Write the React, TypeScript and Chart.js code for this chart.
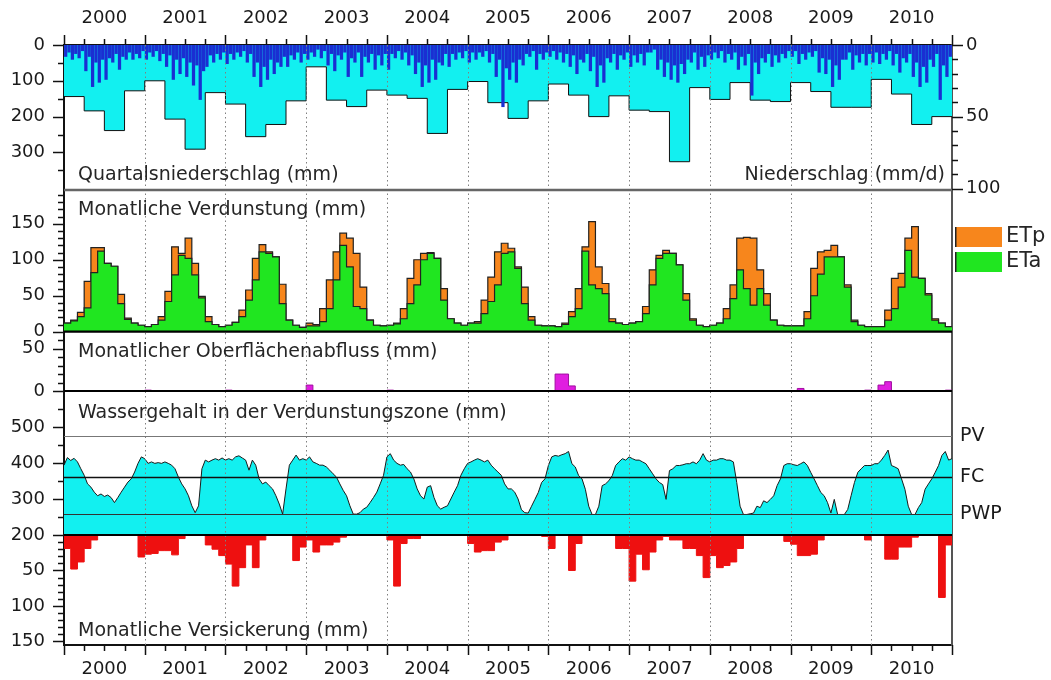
import React, { useEffect, useRef } from 'react';
import { Chart, registerables } from 'chart.js';

Chart.register(...registerables);

const FONT = 'DejaVu Sans';
Chart.defaults.font.family = FONT;

// ---------- data ----------
const years = ['2000', '2001', '2002', '2003', '2004', '2005', '2006', '2007', '2008', '2009', '2010'];

// Quarterly precipitation (mm), 4 per year
const quarterlyPrecip = [
  144, 184, 239, 128,
  100, 207, 291, 133,
  165, 256, 222, 156,
  61, 154, 172, 126,
  140, 149, 247, 124,
  102, 161, 205, 156,
  109, 140, 200, 142,
  182, 186, 326, 119,
  152, 105, 154, 158,
  105, 130, 174, 174,
  96, 137, 222, 200,
];

// Daily precipitation peaks (mm/d), two per month
const dailyPrecip = [
  8, 5, 10, 6, 9, 4, 18, 8, 29, 12, 26, 10, 24, 9, 12, 6, 17, 8, 10, 5, 10, 6, 9, 4,
  10, 5, 8, 4, 11, 6, 15, 7, 24, 10, 20, 9, 22, 12, 28, 14, 38, 18, 15, 7, 12, 6, 10, 5,
  13, 6, 10, 5, 8, 4, 12, 6, 22, 12, 29, 15, 24, 10, 20, 12, 15, 8, 15, 7, 10, 5, 12, 6,
  10, 5, 8, 3, 9, 4, 14, 6, 18, 7, 10, 5, 22, 9, 12, 5, 22, 8, 12, 6, 17, 7, 14, 6,
  17, 6, 9, 4, 10, 5, 14, 7, 20, 12, 29, 14, 26, 10, 24, 12, 14, 6, 15, 6, 10, 5, 9, 4,
  12, 5, 10, 5, 8, 4, 12, 6, 22, 10, 43, 16, 24, 12, 26, 10, 14, 6, 8, 4, 17, 6, 10, 5,
  8, 4, 10, 5, 12, 6, 15, 7, 20, 10, 12, 6, 18, 8, 29, 14, 26, 9, 12, 6, 17, 7, 10, 5,
  15, 7, 12, 6, 14, 5, 5, 3, 17, 10, 22, 12, 24, 14, 26, 13, 20, 10, 12, 5, 17, 8, 15, 7,
  10, 5, 9, 4, 12, 6, 10, 5, 17, 8, 14, 6, 35, 12, 20, 9, 12, 6, 15, 7, 12, 6, 9, 4,
  8, 4, 13, 6, 10, 5, 8, 4, 19, 9, 20, 10, 29, 14, 24, 10, 10, 5, 17, 7, 12, 6, 14, 6,
  12, 5, 13, 6, 10, 4, 14, 6, 19, 9, 12, 6, 22, 12, 29, 15, 26, 10, 15, 6, 38, 14, 22, 8,
];

// Monthly potential evapotranspiration (mm)
const etp = [
  12, 16, 27, 70, 117, 117, 95, 91, 52, 19, 12, 9,
  7, 10, 21, 56, 118, 109, 130, 95, 49, 21, 10, 7,
  9, 13, 30, 58, 102, 121, 111, 104, 66, 16, 9, 6,
  12, 10, 32, 72, 111, 137, 130, 109, 62, 16, 9, 8,
  9, 12, 32, 74, 100, 109, 110, 102, 60, 18, 12, 9,
  12, 14, 44, 76, 111, 123, 116, 90, 62, 21, 9, 8,
  8, 7, 12, 28, 60, 118, 153, 90, 67, 18, 12, 10,
  12, 14, 35, 86, 106, 113, 109, 93, 53, 18, 9, 7,
  9, 12, 32, 65, 130, 131, 130, 86, 53, 16, 9, 8,
  8, 8, 28, 88, 111, 113, 120, 104, 65, 16, 9, 7,
  7, 7, 30, 74, 81, 130, 146, 74, 53, 18, 12, 7,
];

// Monthly actual evapotranspiration (mm)
const eta = [
  12, 15, 21, 33, 82, 112, 95, 91, 39, 17, 12, 9,
  7, 10, 16, 42, 79, 106, 102, 79, 47, 14, 10, 7,
  9, 13, 21, 44, 72, 111, 109, 104, 39, 16, 9, 6,
  8, 8, 14, 32, 72, 120, 90, 35, 32, 16, 9, 8,
  9, 11, 18, 39, 65, 100, 109, 102, 44, 18, 12, 9,
  12, 12, 25, 42, 65, 109, 111, 88, 39, 16, 9, 8,
  8, 7, 10, 21, 32, 112, 65, 60, 53, 14, 12, 10,
  12, 14, 25, 65, 102, 109, 109, 93, 44, 16, 9, 7,
  9, 12, 18, 46, 86, 60, 37, 60, 37, 16, 9, 8,
  8, 8, 18, 50, 80, 104, 104, 104, 62, 14, 9, 7,
  7, 7, 16, 32, 62, 113, 76, 74, 51, 16, 12, 7,
];

// Monthly surface runoff (mm)
const runoff = [
  0, 0, 0, 0, 0, 0, 0, 0, 0, 0, 0, 0,
  1, 0, 0, 0, 0, 0, 0, 0, 0, 0, 0, 0,
  1, 0, 0, 0, 0, 0, 0, 0, 0, 0, 0, 0,
  7, 0, 0, 0, 0, 0, 0, 0, 0, 0, 0, 0,
  1, 0, 0, 0, 0, 0, 0, 0, 0, 0, 0, 0,
  0, 0, 0, 0, 0, 0, 0, 0, 0, 0, 0, 0,
  0, 20, 20, 6, 0, 0, 0, 0, 0, 0, 0, 0,
  0, 0, 0, 0, 0, 0, 0, 0, 0, 0, 0, 0,
  0, 0, 0, 0, 0, 0, 0, 0, 0, 0, 0, 0,
  0, 3, 0, 0, 0, 0, 0, 0, 0, 0, 0, 1,
  0, 7, 11, 0, 0, 0, 0, 0, 0, 0, 0, 1,
];

// Water content in the evaporation zone (mm), twice per month
const waterContent = [
  394, 415, 407, 413, 403, 384, 366, 342, 333, 319, 309, 314, 307, 311, 304, 290, 304, 319, 333, 347, 356, 375, 399, 417,
  412, 399, 403, 399, 401, 399, 403, 399, 394, 384, 361, 342, 328, 309, 281, 262, 281, 384, 408, 403, 408, 412, 408, 414,
  408, 412, 408, 417, 420, 414, 408, 380, 408, 394, 356, 342, 347, 337, 328, 309, 286, 258, 328, 394, 408, 422, 408, 412,
  408, 417, 403, 399, 394, 394, 389, 380, 370, 361, 342, 324, 309, 281, 258, 258, 262, 272, 277, 290, 304, 319, 342, 366,
  417, 426, 408, 399, 394, 396, 384, 375, 356, 328, 309, 300, 333, 337, 304, 281, 272, 277, 281, 300, 319, 337, 366, 384,
  399, 403, 408, 412, 408, 403, 408, 394, 384, 375, 366, 342, 328, 328, 319, 300, 270, 262, 261, 280, 299, 318, 346, 356,
  393, 417, 421, 419, 423, 426, 432, 398, 389, 365, 356, 327, 280, 257, 257, 280, 337, 342, 351, 365, 393, 403, 412, 408,
  417, 412, 408, 408, 403, 398, 384, 370, 356, 346, 340, 299, 379, 384, 393, 393, 395, 398, 398, 403, 398, 408, 426, 408,
  403, 408, 408, 412, 412, 408, 408, 403, 346, 280, 257, 257, 259, 261, 280, 276, 295, 290, 299, 309, 337, 356, 393, 398,
  398, 395, 393, 398, 403, 393, 374, 356, 337, 318, 309, 290, 261, 299, 257, 257, 257, 271, 309, 346, 374, 384, 393, 393,
  393, 398, 398, 408, 421, 436, 393, 389, 384, 356, 327, 280, 257, 257, 276, 290, 327, 342, 356, 374, 393, 421, 432, 408,
  412,
];

// Monthly percolation (mm)
const percolation = [
  19, 48, 38, 19, 7, 0, 0, 0, 0, 0, 0, 31,
  27, 26, 22, 22, 28, 5, 0, 0, 0, 14, 20, 29,
  41, 72, 46, 14, 46, 7, 0, 0, 0, 0, 36, 17,
  7, 24, 14, 14, 10, 3, 0, 0, 0, 0, 0, 0,
  7, 72, 12, 5, 5, 0, 0, 0, 0, 0, 0, 0,
  12, 24, 22, 22, 10, 7, 0, 0, 0, 0, 0, 2,
  19, 0, 0, 50, 12, 0, 0, 0, 0, 0, 19, 19,
  65, 27, 49, 24, 7, 2, 7, 7, 19, 19, 29, 60,
  29, 46, 43, 38, 19, 0, 0, 0, 0, 0, 0, 9,
  13, 29, 29, 27, 7, 0, 0, 0, 0, 0, 0, 7,
  0, 0, 34, 34, 17, 17, 3, 0, 0, 0, 88, 14,
];

// Soil water reference levels (mm)
const levelNames = ['PWP', 'FC', 'PV'];
const levelValues = [258, 360, 474];

const legendLabels = ['ETp', 'ETa'];

const tickPrecipQ = [0, 100, 200, 300];
const tickPrecipD = [0, 50, 100];
const tickEvap = [0, 50, 100, 150];
const tickRunoff = [0, 50];
const tickWater = [200, 300, 400, 500];
const tickPerc = [50, 100, 150];

// ---------- styles ----------
const CYAN = '#12f0f0';
const BLUE = '#1a2fd2';
const ORANGE = '#f7861c';
const GREEN = '#20e620';
const MAGENTA = '#e01ee0';
const RED = '#ee1010';
const INK = '#1a1a1a';

const stepData = (values: number[], width = 1) => [
  ...values.map((v, i) => ({ x: i * width, y: v })),
  { x: values.length * width, y: values[values.length - 1] },
];

const tickFont = { family: FONT, size: 18 };

function leftAxis(weight: number, min: number, max: number, reverse: boolean, ticks: number[]) {
  return {
    type: 'linear',
    position: 'left',
    stack: 'left',
    stackWeight: weight,
    min,
    max,
    reverse,
    grid: { display: false, drawTicks: false },
    border: { display: true, color: '#111', width: 2 },
    ticks: { font: tickFont, color: INK, padding: 19 },
    afterBuildTicks: (s: any) => {
      s.ticks = ticks.map((v) => ({ value: v }));
    },
    afterFit: (s: any) => {
      s.width = 64;
    },
  };
}

function rightAxis(weight: number, min: number, max: number, reverse: boolean, ticks: number[], labels?: string[], pad = 14, size = 18) {
  return {
    type: 'linear',
    position: 'right',
    stack: 'right',
    stackWeight: weight,
    min,
    max,
    reverse,
    grid: { display: false, drawTicks: false },
    border: { display: true, color: '#555', width: 2 },
    ticks: {
      display: ticks.length > 0,
      font: { family: FONT, size },
      color: INK,
      padding: pad,
      callback: (v: number) => (labels ? labels[ticks.indexOf(v)] : String(v)),
    },
    afterBuildTicks: (s: any) => {
      s.ticks = ticks.map((v) => ({ value: v }));
    },
    afterFit: (s: any) => {
      s.width = 99;
    },
  };
}

function xAxis(position: 'top' | 'bottom', pad: number, h: number) {
  return {
    type: 'linear',
    position,
    min: 0,
    max: years.length * 12,
    offset: false,
    grid: { display: false, drawTicks: false },
    border: { display: true, color: '#111', width: 2 },
    ticks: {
      font: tickFont,
      color: INK,
      padding: pad,
      maxRotation: 0,
      autoSkip: false,
      callback: (_v: number, i: number) => years[i],
    },
    afterBuildTicks: (s: any) => {
      s.ticks = years.map((_, i) => ({ value: 6 + 12 * i }));
    },
    afterFit: (s: any) => {
      s.height = h;
    },
  };
}

// tick mark specs: axis id, side, from, to, minor step, major step
const tickMarkSpecs = [
  { id: 'yP', side: 'left', from: 0, to: 350, minor: 50, major: 100 },
  { id: 'yE', side: 'left', from: 0, to: 190, minor: 10, major: 50 },
  { id: 'yR', side: 'left', from: 0, to: 60, minor: 10, major: 50 },
  { id: 'yW', side: 'left', from: 200, to: 550, minor: 50, major: 100 },
  { id: 'yV', side: 'left', from: 10, to: 150, minor: 10, major: 50 },
  { id: 'yPd', side: 'right', from: 0, to: 100, minor: 10, major: 50 },
];

const panelTitles = [
  { text: 'Quartalsniederschlag (mm)', axis: 'yP', edge: 'bottom', dy: -15, align: 'left' },
  { text: 'Niederschlag (mm/d)', axis: 'yP', edge: 'bottom', dy: -15, align: 'right' },
  { text: 'Monatliche Verdunstung (mm)', axis: 'yE', edge: 'top', dy: 20, align: 'left' },
  { text: 'Monatlicher Oberflächenabfluss (mm)', axis: 'yR', edge: 'top', dy: 20, align: 'left' },
  { text: 'Wassergehalt in der Verdunstungszone (mm)', axis: 'yW', edge: 'top', dy: 22, align: 'left' },
  { text: 'Monatliche Versickerung (mm)', axis: 'yV', edge: 'bottom', dy: -14, align: 'left' },
];

const decorPlugin = {
  id: 'decor',
  afterDatasetsDraw(chart: any) {
    const { ctx, chartArea: a, scales: s } = chart;
    ctx.save();
    // dotted year separators
    ctx.strokeStyle = '#808080';
    ctx.lineWidth = 1;
    ctx.setLineDash([1.5, 3]);
    for (let k = 1; k < years.length; k++) {
      const px = Math.round(s.x.getPixelForValue(k * 12)) + 0.5;
      ctx.beginPath();
      ctx.moveTo(px, a.top);
      ctx.lineTo(px, a.bottom);
      ctx.stroke();
    }
    ctx.setLineDash([]);
    // soil water levels
    const levelStyle = [
      { c: '#333', w: 1.2 },
      { c: '#111', w: 1.6 },
      { c: '#777', w: 1 },
    ];
    levelValues.forEach((v, i) => {
      const py = Math.round(s.yW2.getPixelForValue(v)) + 0.5;
      ctx.strokeStyle = levelStyle[i].c;
      ctx.lineWidth = levelStyle[i].w;
      ctx.beginPath();
      ctx.moveTo(a.left, py);
      ctx.lineTo(a.right, py);
      ctx.stroke();
    });
    // panel separators
    const seps = [
      { y: s.yE.top, c: '#666', w: 2.5 },
      { y: s.yR.top, c: '#000', w: 2.2 },
      { y: s.yW.top, c: '#000', w: 2.2 },
      { y: s.yV.top, c: '#000', w: 1.8 },
    ];
    seps.forEach((sp) => {
      ctx.strokeStyle = sp.c;
      ctx.lineWidth = sp.w;
      ctx.beginPath();
      ctx.moveTo(a.left, sp.y);
      ctx.lineTo(a.right, sp.y);
      ctx.stroke();
    });
    ctx.restore();
  },
  afterDraw(chart: any) {
    const { ctx, chartArea: a, scales: s } = chart;
    ctx.save();
    ctx.strokeStyle = '#111';
    ctx.lineWidth = 1.5;
    // y tick marks
    tickMarkSpecs.forEach((t) => {
      const sc = s[t.id];
      for (let v = t.from; v <= t.to + 1e-6; v += t.minor) {
        const py = Math.round(sc.getPixelForValue(v)) + 0.5;
        const len = v % t.major === 0 ? 11 : 6;
        ctx.beginPath();
        if (t.side === 'left') {
          ctx.moveTo(a.left - len, py);
          ctx.lineTo(a.left, py);
        } else {
          ctx.moveTo(a.right, py);
          ctx.lineTo(a.right + len, py);
        }
        ctx.stroke();
      }
    });
    // x tick marks (quarters)
    for (let m = 0; m <= years.length * 12; m += 3) {
      const px = Math.round(s.x.getPixelForValue(m)) + 0.5;
      const len = m % 12 === 0 ? 10 : 6;
      ctx.beginPath();
      ctx.moveTo(px, a.top - len);
      ctx.lineTo(px, a.top);
      ctx.moveTo(px, a.bottom);
      ctx.lineTo(px, a.bottom + len);
      ctx.stroke();
    }
    // panel titles
    ctx.fillStyle = '#262626';
    ctx.font = `19px "${FONT}"`;
    ctx.textBaseline = 'middle';
    panelTitles.forEach((t) => {
      const sc = s[t.axis];
      const y = (t.edge === 'top' ? sc.top : sc.bottom) + t.dy;
      ctx.textAlign = t.align as CanvasTextAlign;
      const x = t.align === 'left' ? a.left + 14 : a.right - 7;
      ctx.fillText(t.text, x, y);
    });
    // legend for ETp / ETa
    const colors = [ORANGE, GREEN];
    ctx.font = `21px "${FONT}"`;
    ctx.textAlign = 'left';
    legendLabels.forEach((lab, i) => {
      const top = s.yE.top + 37 + i * 25;
      const x0 = a.right + 3;
      ctx.fillStyle = colors[i];
      ctx.fillRect(x0, top, 47, 20);
      ctx.strokeStyle = '#222';
      ctx.lineWidth = 1.5;
      ctx.beginPath();
      ctx.moveTo(x0 + 0.75, top);
      ctx.lineTo(x0 + 0.75, top + 20);
      ctx.stroke();
      ctx.fillStyle = '#262626';
      ctx.fillText(lab, x0 + 51, top + 10);
    });
    ctx.restore();
  },
};

function makeConfig(): any {
  return {
    type: 'line',
    data: {
      datasets: [
        {
          label: 'Quartalsniederschlag',
          data: stepData(quarterlyPrecip, 3),
          xAxisID: 'x',
          yAxisID: 'yP',
          stepped: 'before',
          fill: 'origin',
          backgroundColor: CYAN,
          borderColor: '#111',
          borderWidth: 1,
          pointRadius: 0,
          order: 6,
        },
        {
          type: 'bar',
          label: 'Niederschlag',
          data: dailyPrecip.map((v, i) => ({ x: i * 0.5 + 0.25, y: v })),
          xAxisID: 'x',
          yAxisID: 'yPd',
          backgroundColor: BLUE,
          barThickness: 2.6,
          grouped: false,
          order: 5,
        },
        {
          label: 'ETp',
          data: stepData(etp),
          xAxisID: 'x',
          yAxisID: 'yE',
          stepped: 'before',
          fill: 'origin',
          backgroundColor: ORANGE,
          borderColor: '#222',
          borderWidth: 1.2,
          pointRadius: 0,
          order: 4,
        },
        {
          label: 'ETa',
          data: stepData(eta),
          xAxisID: 'x',
          yAxisID: 'yE',
          stepped: 'before',
          fill: 'origin',
          backgroundColor: GREEN,
          borderColor: '#222',
          borderWidth: 1.2,
          pointRadius: 0,
          order: 3,
        },
        {
          label: 'Oberflächenabfluss',
          data: stepData(runoff),
          xAxisID: 'x',
          yAxisID: 'yR',
          stepped: 'before',
          fill: 'origin',
          backgroundColor: MAGENTA,
          borderColor: '#a010a0',
          borderWidth: 1,
          pointRadius: 0,
          order: 2,
        },
        {
          label: 'Wassergehalt',
          data: waterContent.map((v, i) => ({ x: i * 0.5, y: v })),
          xAxisID: 'x',
          yAxisID: 'yW',
          fill: 'start',
          backgroundColor: CYAN,
          borderColor: '#1a1a1a',
          borderWidth: 1,
          tension: 0,
          pointRadius: 0,
          order: 2,
        },
        {
          label: 'Versickerung',
          data: stepData(percolation),
          xAxisID: 'x',
          yAxisID: 'yV',
          stepped: 'before',
          fill: 'origin',
          backgroundColor: RED,
          borderColor: RED,
          borderWidth: 1,
          pointRadius: 0,
          order: 2,
        },
      ],
    },
    options: {
      responsive: false,
      animation: false,
      events: [],
      layout: { padding: 0 },
      plugins: {
        legend: { display: false },
        tooltip: { enabled: false },
        title: { display: false },
      },
      scales: {
        x: xAxis('bottom', 14, 35),
        xTop: xAxis('top', 16, 45),
        // left stack: listed bottom-to-top
        yV: leftAxis(110, 0, 155, true, tickPerc),
        yW: leftAxis(144, 200, 600, false, tickWater),
        yR: leftAxis(59.3, 0, 70, false, tickRunoff),
        yE: leftAxis(141.7, 0, 197, false, tickEvap),
        yP: leftAxis(145, 0, 405, true, tickPrecipQ),
        // right stack: listed top-to-bottom
        yPd: rightAxis(145, 0, 101, true, tickPrecipD),
        yR2: rightAxis(201, 0, 1, false, []),
        yW2: rightAxis(144, 200, 600, false, levelValues, levelNames, 8, 19),
        yR5: rightAxis(110, 0, 1, false, []),
      },
    },
    plugins: [decorPlugin],
  };
}

export default function App() {
  const ref = useRef<HTMLCanvasElement>(null);
  useEffect(() => {
    const chart = new Chart(ref.current as HTMLCanvasElement, makeConfig());
    return () => chart.destroy();
  }, []);
  return (
    <div style={{ position: 'fixed', left: 0, top: 0, width: 1051, height: 680, background: '#fff' }}>
      <canvas ref={ref} width={1051} height={680} style={{ display: 'block', width: 1051, height: 680 }} />
    </div>
  );
}
